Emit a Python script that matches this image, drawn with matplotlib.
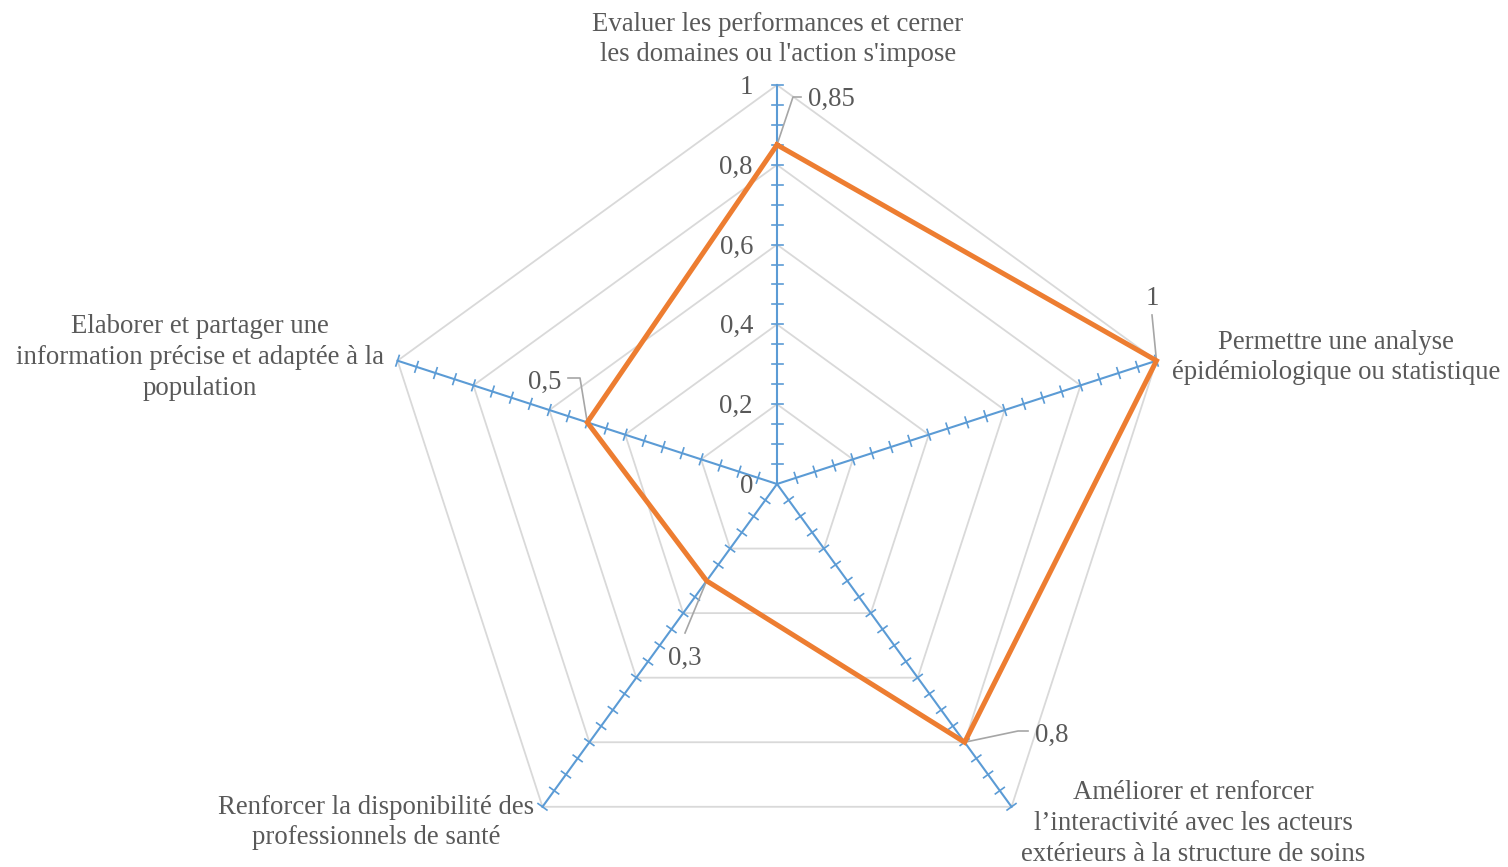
import numpy as np
import matplotlib
matplotlib.use("Agg")
import matplotlib.pyplot as plt

categories = [
    "Evaluer les performances et cerner\nles domaines ou l'action s'impose",
    "Permettre une analyse\népidémiologique ou statistique",
    "Améliorer et renforcer\nl\u2019interactivité avec les acteurs\nextérieurs à la structure de soins",
    "Renforcer la disponibilité des\nprofessionnels de santé",
    "Elaborer et partager une\ninformation précise et adaptée à la\npopulation",
]
values = [0.85, 1.0, 0.8, 0.3, 0.5]
value_labels = ["0,85", "1", "0,8", "0,3", "0,5"]
grid_levels = [0.2, 0.4, 0.6, 0.8, 1.0]
tick_labels = ["0", "0,2", "0,4", "0,6", "0,8", "1"]
minor_step = 0.05

W, H = 1508, 867
CX, CY = 777, 484          # centre, pixels from top-left
R = 399                    # radius of value 1 in pixels
DY = 2.5                   # small text baseline offset (pixels)

plt.rcParams['font.family'] = ['Liberation Serif', 'DejaVu Serif']
TXT = '#595959'
FS = 19.3

fig = plt.figure(figsize=(W / 100, H / 100), dpi=100)
ax = fig.add_axes([0, 0, 1, 1])
ax.set_xlim(-CX / R, (W - CX) / R)
ax.set_ylim(-(H - CY) / R, CY / R)
ax.axis('off')

n = len(categories)
theta = np.pi / 2 - 2 * np.pi * np.arange(n) / n
ux, uy = np.cos(theta), np.sin(theta)

def pt(i, r):
    return r * ux[i], r * uy[i]

def P(x, y):
    # pixel -> data
    return (x - CX) / R, (CY - y) / R

def T(x, y):
    return P(x, y + DY)

# grid pentagons
for g in grid_levels:
    xs = list(g * ux) + [g * ux[0]]
    ys = list(g * uy) + [g * uy[0]]
    ax.plot(xs, ys, color='#D9D9D9', lw=1.3, zorder=1, solid_joinstyle='miter')

# spokes with ticks
blue = '#5B9BD5'
tl = 5.5 / R
ticks = np.arange(1, int(round(1 / minor_step)) + 1) * minor_step
for i in range(n):
    ax.plot([0, ux[i]], [0, uy[i]], color=blue, lw=1.5, zorder=2)
    px, py = -uy[i], ux[i]
    for t in ticks:
        x0, y0 = pt(i, t)
        ax.plot([x0 - tl * px, x0 + tl * px], [y0 - tl * py, y0 + tl * py],
                color=blue, lw=1.2, zorder=2)

# data polygon
vx = [v * ux[i] for i, v in enumerate(values)] + [values[0] * ux[0]]
vy = [v * uy[i] for i, v in enumerate(values)] + [values[0] * uy[0]]
ax.plot(vx, vy, color='#ED7D31', lw=3.6, zorder=4, solid_joinstyle='miter')

# radial tick labels
for k, lab in enumerate(tick_labels):
    r = k * 0.2
    ax.text(-24 / R, r - DY / R, lab, ha='right', va='center', fontsize=FS, color=TXT)

# data labels with leader lines
lead = '#A6A6A6'
# 0,85
x0, y0 = pt(0, values[0])
ax.plot([x0, P(793, 97)[0], P(801, 97)[0]], [y0, P(793, 97)[1], P(801, 97)[1]], color=lead, lw=1.2, zorder=3)
ax.text(*T(808, 97), value_labels[0], ha='left', va='center', fontsize=FS, color=TXT)
# 1
x0, y0 = pt(1, values[1])
ax.plot([x0, P(1152, 315)[0]], [y0, P(1152, 315)[1]], color=lead, lw=1.2, zorder=3)
ax.text(*T(1152, 296), value_labels[1], ha='center', va='center', fontsize=FS, color=TXT)
# 0,8
x0, y0 = pt(2, values[2])
ax.plot([x0, P(1018, 731)[0], P(1028, 731)[0]], [y0, P(1018, 731)[1], P(1028, 731)[1]], color=lead, lw=1.2, zorder=3)
ax.text(*T(1035, 733), value_labels[2], ha='left', va='center', fontsize=FS, color=TXT)
# 0,3
x0, y0 = pt(3, values[3])
ax.plot([x0, P(685, 633)[0]], [y0, P(685, 633)[1]], color=lead, lw=1.2, zorder=3)
ax.text(*T(685, 656), value_labels[3], ha='center', va='center', fontsize=FS, color=TXT)
# 0,5
x0, y0 = pt(4, values[4])
ax.plot([x0, P(580, 378)[0], P(568, 378)[0]], [y0, P(580, 378)[1], P(568, 378)[1]], color=lead, lw=1.2, zorder=3)
ax.text(*T(561, 380), value_labels[4], ha='right', va='center', fontsize=FS, color=TXT)

# category labels
cat_pos = [(778, 37), (1336, 355), (1193, 821), (376, 820), (200, 355)]
for lab, (x, y) in zip(categories, cat_pos):
    ax.text(*T(x, y), lab, ha='center', va='center', fontsize=FS, color=TXT,
            linespacing=1.3, multialignment='center')

fig.savefig('out.png', dpi=100)
